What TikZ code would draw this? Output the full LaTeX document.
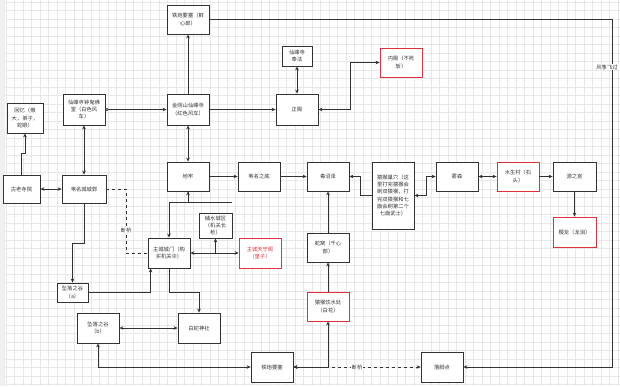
\documentclass[tikz,border=0pt]{standalone}
\usepackage{fontspec}
\newfontfamily\cjk{Noto Sans CJK SC}
\usetikzlibrary{arrows.meta}
\definecolor{edgegray}{HTML}{333333}
\definecolor{boxred}{HTML}{E0323C}
\definecolor{gridgray}{HTML}{E8E8E8}

\begin{document}
\begin{tikzpicture}[
  x=1pt, y=-1pt,
  font=\cjk\fontsize{5.3}{7.2}\selectfont,
  box/.style={draw=edgegray, line width=0.8pt, fill=white, align=center, inner sep=1pt,
    text=edgegray, minimum width=42pt, minimum height=29pt},
  redbox/.style={box, draw=boxred},
  arr/.style={-{Stealth[length=4pt,width=3.6pt]}, line width=0.7pt, edgegray},
  arr2/.style={{Stealth[length=4pt,width=3.6pt]}-{Stealth[length=4pt,width=3.6pt]}, line width=0.7pt, edgegray},
  plain/.style={line width=0.7pt, edgegray},
  lbl/.style={fill=white, inner sep=1pt, text=edgegray}
]
\useasboundingbox (0,0) rectangle (620,386);
% background grid
\fill[white] (0,0) rectangle (620,386);
\foreach \gx in {6,14.5,...,620} \draw[gridgray, line width=0.3pt] (\gx,0) -- (\gx,386);
\foreach \gy in {2,10.5,...,386} \draw[gridgray, line width=0.3pt] (0,\gy) -- (620,\gy);
\fill[gray!12] (0,0) rectangle (5,386);

% Senpou side
\node[box] (gunTop) at (188,19.5) {铁炮要塞（鲜\\心郎）};
\node[box, minimum height=31pt] (bell) at (84,109.5) {仙峰寺钟鬼佛\\堂（白色风\\车）};
\node[box, minimum height=31pt] (senpou) at (188,109.5) {金刚山仙峰寺\\（红色风车）};
\node[box, minimum width=30pt, minimum height=20pt] (hoho) at (297,56) {仙峰寺\\奉法};
\node[box, minimum height=31pt] (mainhall) at (297,109.5) {正殿};
\node[redbox] (inner) at (401,62.5) {内殿（不死\\斩）};

% Ashina
\node[box, minimum width=36pt, minimum height=30pt] (memory) at (25,118) {回忆（猴\\大，弟子，\\蛇眼）};
\node[box, minimum width=37pt, minimum height=28pt] (oldtemple) at (21.5,189) {古老寺院};
\node[box, minimum width=44pt, minimum height=28pt] (castle) at (84,189) {苇名城城郭};
\node[box] (dungeon) at (188,176.5) {地牢};
\node[box] (depths) at (259,176.5) {苇名之底};
\node[box] (poison) at (328,176.5) {毒沼泽};
\node[box, minimum width=33pt, minimum height=25pt] (reservoir) at (215.5,225.5) {储水城区\\（机关长\\枪）};
\node[box, minimum height=30pt] (gate) at (169,253) {主城城门（购\\买机关伞）};
\node[redbox, minimum height=30pt, text=boxred] (keep) at (260,253) {主城天守阁\\（皇子）};
\node[box] (snake) at (328,247.5) {蛇窝（千心\\部）};
\node[redbox] (water) at (328,306.5) {猿猴饮水处\\（白花）};

% Depths and beyond
\node[box, minimum height=67pt] (ape) at (393,195.5) {猿猴巢穴（这\\里打完猿猴会\\刷双猿猴，打\\完双猿猴和七\\面会刷第二个\\七面武士）};
\node[box] (forest) at (457,176.5) {雾森};
\node[redbox] (mibu) at (518,176.5) {水生村（石\\头）};
\node[box, minimum width=43pt] (fountain) at (574.5,176.5) {源之宫};
\node[redbox, minimum width=43pt, minimum height=30pt] (dragon) at (574.5,232) {樱龙（龙泪）};

% Sunken valley
\node[box, minimum width=31pt, minimum height=19pt] (fallA) at (72.5,292.5) {坠落之谷\\（a）};
\node[box, minimum height=30pt] (fallB) at (98,328) {坠落之谷\\（b）};
\node[box, minimum height=30pt] (shrine) at (199,328) {白蛇神社};
\node[box, minimum height=30pt] (gunBottom) at (272,367) {铁炮要塞};
\node[box, minimum height=30pt] (landing) at (442,367) {落脚点};

\coordinate (stub) at (232,202);

% Connectors
\draw[arr] (senpou) -- (gunTop);
\draw[arr] (gunTop.east) -- (612,19.5) |- (landing.east);
\node[lbl] (kite) at (607,67) {风筝飞过};
\draw[{Circle[open,length=3.2pt,width=3.2pt]}-{Stealth[length=4pt,width=3.6pt]}, line width=0.7pt, edgegray] (bell) -- (senpou);
\draw[arr2] (senpou) -- (dungeon);
\draw[arr2] (bell) -- (castle);
\draw[arr2] (oldtemple) -- (castle);
\draw[arr] (oldtemple.north) |- (25,153) -- (memory.south);
\draw[arr] (senpou) -- (mainhall);
\draw[arr2] (mainhall) -- (hoho);
\draw[arr2] (mainhall.east) -- (350,109.5) |- (inner.west);
\draw[arr] (dungeon) -- (depths);
\draw[arr] (depths) -- (poison);
\draw[arr] (ape.west) -- (360,195.5) |- (poison.east);
\draw[arr2] (ape.east) -- (426,195.5) |- (forest.west);
\draw[arr2] (forest) -- (mibu);
\draw[arr] (mibu) -- (fountain);
\draw[arr] (fountain) -- (dragon);
\draw[arr2] (gate.north) |- (188,202) -- (dungeon.south);
\draw[plain] (dungeon.south) |- (stub);
\draw[arr2] (gate) -- (keep);
\draw[arr] (reservoir.south |- gate.east) -- (reservoir.south);
\draw[plain, dash pattern=on 3pt off 3pt] (castle.east) -- (126,189) |- (gate.west);
\node[lbl] (bridgeA) at (126,230) {断桥};
\draw[arr] (castle.south) -- (84,243) -| (fallA.north);
\draw[arr] (fallA.east) -| ([xshift=3pt]gate.south west);
\draw[arr] (gate.south) -- (169,292) -| (shrine.north);
\draw[arr2] (fallB) -- (shrine);
\draw[arr2] (gunBottom.west) -| (fallB.south);
\draw[arr2] (gunBottom.east) -| (water.south);
\draw[arr2, dash pattern=on 3pt off 3pt] (gunBottom.east) -- node[lbl] (bridgeB) {断桥} (landing.west);
\draw[arr] (water) -- (snake);
\draw[arr] (snake) -- (poison);
\end{tikzpicture}
\end{document}
